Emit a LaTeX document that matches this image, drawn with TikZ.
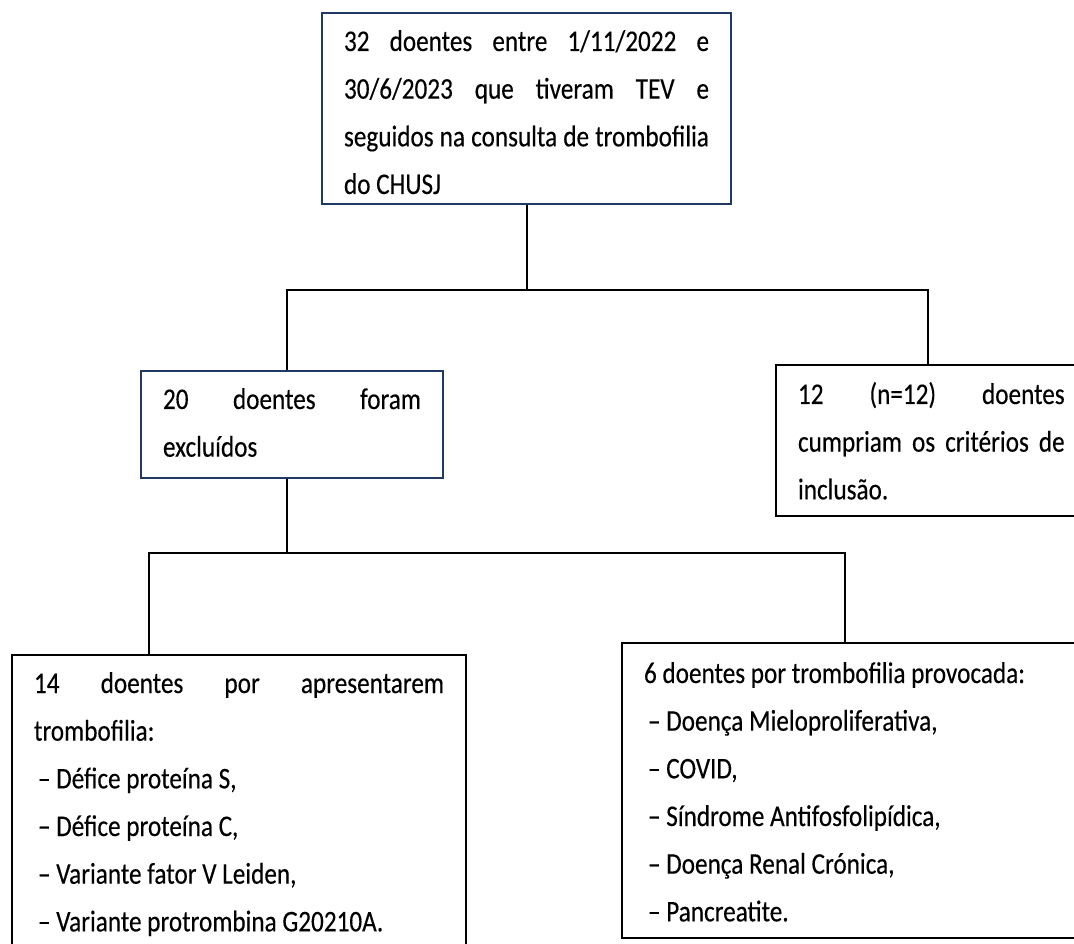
\documentclass[tikz,border=0pt]{standalone}
\usepackage{fontspec}
\setmainfont[FakeStretch=0.84,FakeBold=0.3]{Carlito}

\definecolor{boxblue}{RGB}{31,56,100}
\newcommand{\fullline}[1]{\makebox[\linewidth][s]{#1}}
\newcommand{\itemline}[1]{\hspace*{3pt}#1}

\tikzset{every picture/.style={line width=1.5pt}}
\tikzset{
	flowbox/.style={draw=black, anchor=north west, align=justify, inner xsep=16.5pt, inner ysep=0pt,
		font=\fontsize{22.5}{35.75}\selectfont},
	bluebox/.style={flowbox, draw=boxblue},
	link/.style={draw=black, line width=1.5pt}
}

\begin{document}
\begin{tikzpicture}[x=0.75pt,y=0.75pt,yscale=-1,xscale=1]
	\useasboundingbox (0,0) rectangle (1074,944);

	% Boxes
	\node [bluebox, text width=273.75pt, text height=28.5pt, text depth=114.75pt] (cohort) at (321,12)
		{\fullline{32 doentes entre 1/11/2022 e}\\
		 \fullline{30/6/2023 que tiveram TEV e}\\
		 \fullline{seguidos na consulta de trombofilia}\\
		 do CHUSJ};
	\node [bluebox, text width=193.5pt, text height=28.5pt, text depth=51.75pt] (excl) at (140,370)
		{\fullline{20 doentes foram}\\
		 excluídos};
	\node [flowbox, text width=200pt, text height=29.25pt, text depth=84pt] (incl) at (775,364)
		{\fullline{12 (n=12) doentes}\\
		 \fullline{cumpriam os critérios de}\\
		 inclusão.};
	\node [flowbox, text width=307.5pt, text height=28.5pt, text depth=221pt] (thromb) at (11,654)
		{\fullline{14 doentes por apresentarem}\\
		 trombofilia:\\
		 \itemline{– Défice proteína S,}\\
		 \itemline{– Défice proteína C,}\\
		 \itemline{– Variante fator V Leiden,}\\
		 \itemline{– Variante protrombina G20210A.}};
	\node [flowbox, text width=330pt, text height=30pt, text depth=191.25pt] (provoked) at (621,642)
		{6 doentes por trombofilia provocada:\\
		 \itemline{– Doença Mieloproliferativa,}\\
		 \itemline{– COVID,}\\
		 \itemline{– Síndrome Antifosfolipídica,}\\
		 \itemline{– Doença Renal Crónica,}\\
		 \itemline{– Pancreatite.}};

	% Connectors
	\coordinate (left1) at (287,290);
	\coordinate (right1) at (928,290);
	\coordinate (fork2) at (287,553);
	\coordinate (left2) at (149,553);
	\coordinate (right2) at (845,553);

	\draw [link] (cohort.south) -- (cohort.south |- left1);
	\draw [link] (left1 |- excl.north) -- (left1) -- (right1) -- (right1 |- incl.north);
	\draw [link] (excl.south -| fork2) -- (fork2);
	\draw [link] (left2 |- thromb.north) -- (left2) -- (right2) -- (right2 |- provoked.north);

\end{tikzpicture}
\end{document}
